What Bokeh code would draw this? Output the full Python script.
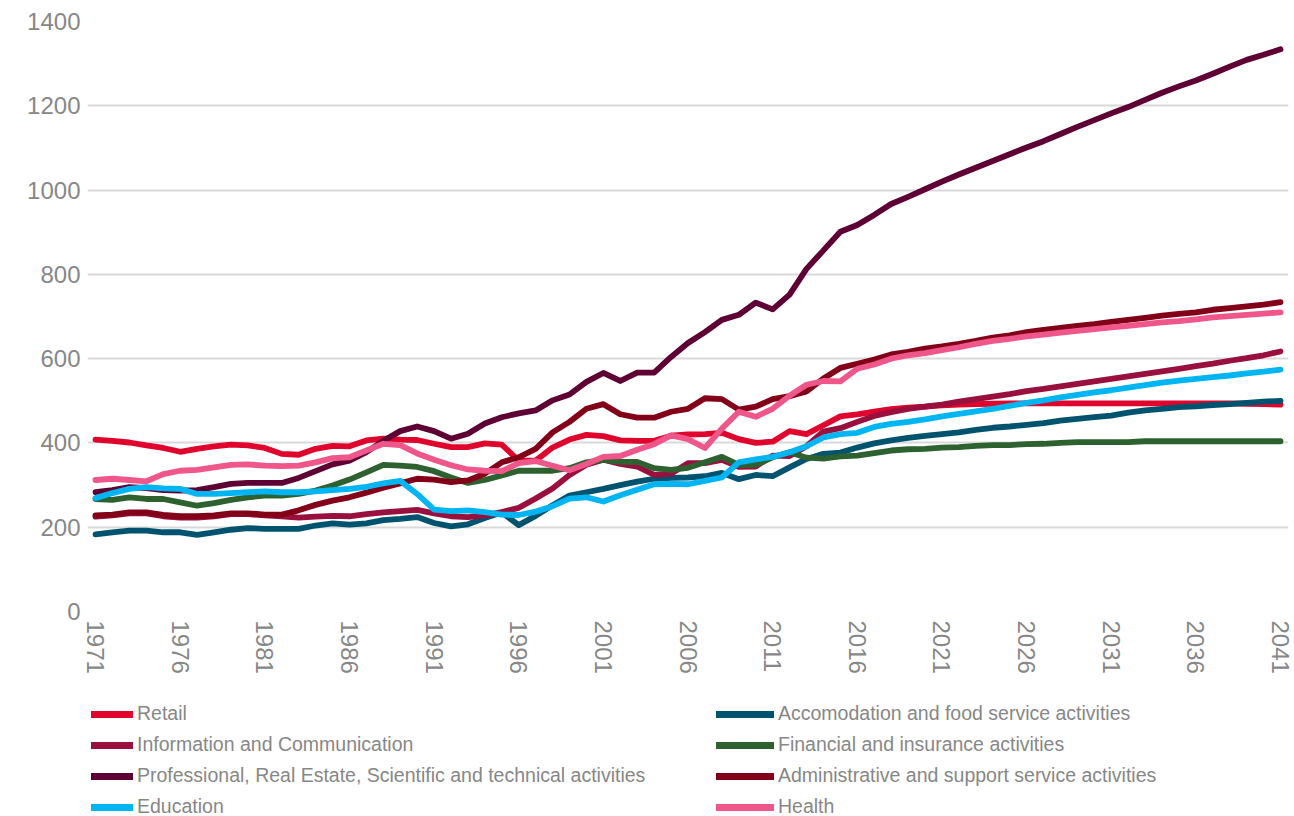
from bokeh.plotting import figure
from bokeh.models import Legend, LegendItem, FixedTicker
from bokeh.layouts import column
from bokeh.embed import file_html
from bokeh.resources import INLINE

years = list(range(1971, 2042))
x_ticks = [1971, 1976, 1981, 1986, 1991, 1996, 2001, 2006, 2011, 2016, 2021, 2026, 2031, 2036, 2041]
y_ticks = [0, 200, 400, 600, 800, 1000, 1200, 1400]

retail = [408, 405, 401, 394, 388, 379, 386, 392, 396, 394, 388, 374, 372, 386, 393,
          392, 406, 410, 408, 407, 398, 390, 390, 399, 396, 358, 358, 389, 408, 419,
          416, 406, 405, 405, 417, 420, 421, 424, 409, 400, 403, 428, 421, 442, 463,
          468, 474, 480, 484, 486, 489, 491, 492, 493, 494, 494, 494, 494, 494, 494,
          494, 494, 494, 494, 494, 494, 494, 494, 493, 492, 491]
accom = [183, 188, 192, 192, 188, 188, 182, 188, 194, 198, 196, 196, 196, 204, 209,
         206, 209, 217, 220, 224, 210, 202, 207, 222, 235, 205, 227, 252, 275, 283,
         291, 300, 308, 315, 317, 318, 321, 329, 314, 324, 321, 342, 362, 374, 377,
         389, 399, 406, 412, 417, 421, 425, 431, 436, 439, 443, 447, 453, 457, 461,
         465, 472, 477, 481, 485, 487, 490, 492, 495, 498, 500]
info = [225, 228, 233, 233, 226, 223, 223, 226, 231, 231, 228, 226, 223, 225, 227,
        226, 231, 235, 238, 241, 233, 226, 224, 228, 236, 246, 268, 292, 324, 348,
        360, 350, 344, 324, 327, 352, 352, 360, 343, 344, 370, 369, 392, 427, 435,
        450, 464, 473, 481, 486, 491, 498, 504, 510, 516, 523, 528, 534, 540, 546,
        552, 558, 564, 570, 576, 582, 588, 595, 601, 608, 617]
financial = [267, 265, 271, 267, 267, 259, 251, 257, 265, 271, 275, 275, 279, 287, 299,
             313, 330, 348, 346, 343, 333, 318, 305, 312, 323, 334, 334, 334, 340, 354,
             360, 355, 355, 340, 336, 341, 354, 367, 348, 348, 366, 378, 365, 363, 368,
             370, 376, 382, 385, 386, 389, 390, 393, 395, 395, 397, 398, 400, 402, 402,
             402, 402, 404, 404, 404, 404, 404, 404, 404, 404, 404]
professional = [283, 288, 295, 293, 288, 287, 288, 295, 303, 305, 305, 305, 317, 333, 349,
                358, 378, 405, 428, 439, 428, 410, 422, 446, 461, 470, 477, 501, 515, 545,
                566, 547, 567, 567, 604, 637, 663, 692, 704, 733, 717, 752, 813, 857, 901,
                917, 941, 967, 984, 1002, 1020, 1037, 1053, 1069, 1085, 1101, 1116, 1133, 1150, 1166,
                1182, 1197, 1214, 1231, 1246, 1260, 1276, 1293, 1309, 1321, 1334]
admin = [228, 230, 235, 235, 229, 226, 226, 228, 233, 233, 230, 230, 240, 253, 263,
         271, 282, 294, 304, 315, 313, 307, 311, 327, 354, 366, 386, 425, 450, 481,
         492, 468, 460, 460, 474, 481, 506, 504, 479, 486, 504, 511, 522, 553, 578,
         588, 598, 610, 616, 624, 629, 635, 642, 650, 655, 663, 668, 673, 678, 682,
         687, 692, 697, 702, 706, 710, 716, 720, 724, 728, 734]
education = [269, 281, 291, 295, 292, 291, 279, 279, 281, 283, 285, 283, 283, 285, 288,
             291, 296, 304, 310, 279, 242, 238, 240, 236, 230, 229, 237, 250, 268, 271,
             261, 276, 289, 302, 303, 302, 310, 318, 354, 361, 367, 378, 392, 413, 421,
             424, 438, 445, 450, 456, 463, 469, 475, 481, 488, 495, 501, 508, 514, 520,
             525, 531, 537, 543, 548, 552, 556, 560, 565, 569, 574]
health = [312, 315, 312, 309, 326, 334, 336, 342, 348, 349, 346, 345, 346, 354, 364,
          366, 382, 398, 395, 375, 360, 347, 337, 334, 333, 352, 357, 346, 335, 350,
          367, 369, 384, 397, 418, 409, 388, 434, 474, 462, 481, 512, 538, 547, 546,
          576, 586, 600, 608, 613, 620, 627, 635, 642, 647, 653, 657, 662, 666, 670,
          674, 678, 682, 686, 689, 693, 698, 701, 704, 707, 710]

series = [
    ("Retail", retail, "#E0052D"),
    ("Accomodation and food service activities", accom, "#00536F"),
    ("Information and Communication", info, "#990F3D"),
    ("Financial and insurance activities", financial, "#2E6130"),
    ("Professional, Real Estate, Scientific and technical activities", professional, "#5E0033"),
    ("Administrative and support service activities", admin, "#820018"),
    ("Education", education, "#00B5F2"),
    ("Health", health, "#EF5689"),
]

FONT = "Liberation Sans"
GRAY = "#878787"

# main chart
p = figure(width=1294, height=688, output_backend="svg", toolbar_location=None,
           x_range=(1970.527, 2041.473), y_range=(0, 1400),
           min_border_left=87, min_border_right=6, min_border_top=21, min_border_bottom=77)
p.outline_line_color = None
p.background_fill_color = "white"
p.border_fill_color = "white"
p.xgrid.grid_line_color = None
p.ygrid.grid_line_color = "#D9D9D9"
p.ygrid.grid_line_width = 2

p.xaxis.ticker = FixedTicker(ticks=x_ticks)
p.yaxis.ticker = FixedTicker(ticks=y_ticks)
for ax in (p.xaxis[0], p.yaxis[0]):
    ax.axis_line_color = None
    ax.major_tick_line_color = None
    ax.minor_tick_line_color = None
    ax.major_tick_out = 0
    ax.major_tick_in = 0
    ax.major_label_text_font = FONT
    ax.major_label_text_font_size = "24px"
    ax.major_label_text_color = GRAY
p.xaxis.major_label_orientation = "vertical"
p.xaxis.major_label_standoff = 9
p.yaxis.major_label_standoff = 7

for name, vals, color in series:
    p.line(years, vals, line_color=color, line_width=5.8,
           line_cap="round", line_join="round")

# legend strip below the chart (its lines lie outside its visible range;
# only their legend swatches show)
lg = figure(width=1294, height=128, output_backend="svg", toolbar_location=None,
            x_range=(1970, 2042), y_range=(-2, -1), x_axis_location=None, y_axis_location=None,
            min_border_left=0, min_border_right=0, min_border_top=0, min_border_bottom=0)
lg.outline_line_color = None
lg.xgrid.grid_line_color = None
lg.ygrid.grid_line_color = None
lg.background_fill_color = "white"
lg.border_fill_color = "white"

left_items, right_items = [], []
for i, (name, vals, color) in enumerate(series):
    r = lg.line(years, vals, line_color=color, line_width=7, line_cap="round")
    (left_items if i % 2 == 0 else right_items).append(LegendItem(label=name, renderers=[r]))


def make_legend(items, loc, gw):
    return Legend(items=items, location=loc, orientation="vertical",
                  padding=0, margin=0, spacing=8,
                  glyph_width=gw, glyph_height=20, label_height=20, label_standoff=4,
                  label_text_font=FONT, label_text_font_size="19.5px",
                  label_text_color=GRAY, border_line_color=None,
                  background_fill_alpha=0)


lg.add_layout(make_legend(left_items, (4, -2), 42), "center")
lg.add_layout(make_legend(right_items, (629, -2), 58), "center")

layout = column(p, lg, spacing=0)
open("out.html", "w").write(file_html(layout, INLINE))
